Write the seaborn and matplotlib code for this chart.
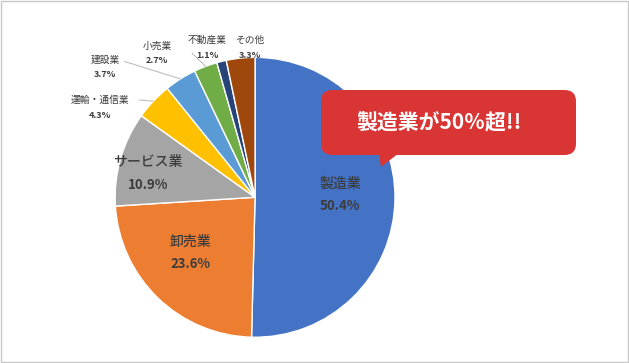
import numpy as np
import matplotlib
matplotlib.use("Agg")
import matplotlib.pyplot as plt
import seaborn as sns
from matplotlib.patches import FancyBboxPatch, Polygon, Rectangle

# data
industries = ["製造業", "卸売業", "サービス業", "運輸・通信業", "建設業", "小売業", "不動産業", "その他"]
shares = [50.4, 23.6, 10.9, 4.3, 3.7, 2.7, 1.1, 3.3]
colors = ["#4472C4", "#ED7D31", "#A5A5A5", "#FFC000", "#5B9BD5", "#70AD47", "#264478", "#9E480E"]
callout_text = "製造業が50％超!!"

# label placement (data units, pie radius = 1)
label_pos = [(0.607, 0.02), (-0.464, -0.40), (-0.764, 0.17), (-1.107, 0.64),
             (-1.071, 0.93), (-0.70, 1.03), (-0.34, 1.07), (-0.035, 1.07)]
big = [True, True, True, False, False, False, False, False]
leader = [False, False, False, True, True, True, False, False]

sns.set_theme(style="white")
plt.rcParams["font.family"] = ["Noto Sans CJK JP", "DejaVu Sans"]

fig = plt.figure(figsize=(6.29, 3.63), dpi=100)
ax = fig.add_axes([0.183, 0.071, 0.445, 0.771])

wedges, _ = ax.pie(shares, colors=colors, startangle=90, counterclock=False,
                   wedgeprops=dict(edgecolor="white", linewidth=1))
ax.set_xlim(-1, 1)
ax.set_ylim(-1, 1)
ax.set_aspect("equal")
ax.axis("off")

txt_col = "#3C3C3C"
for w, name, val, pos, b, ld in zip(wedges, industries, shares, label_pos, big, leader):
    x, y = pos
    if b:
        ax.text(x, y + 0.08, name, ha="center", va="center", fontsize=10, color=txt_col,
                fontweight="medium")
        ax.text(x, y - 0.08, f"{val}%", ha="center", va="center", fontsize=9.5,
                fontweight="bold", color=txt_col)
    else:
        ax.text(x, y + 0.055, name, ha="center", va="center", fontsize=7, color=txt_col)
        ax.text(x, y - 0.055, f"{val}%", ha="center", va="center", fontsize=6.5,
                fontweight="bold", color=txt_col)
    if ld:
        ang = np.deg2rad((w.theta1 + w.theta2) / 2)
        ex, ey = np.cos(ang), np.sin(ang)
        if name == "運輸・通信業":
            sx, sy = x + 0.28, y + 0.055
        elif name == "建設業":
            sx, sy = x + 0.14, y + 0.04
        else:
            sx, sy = x + 0.25, y + 0.0
        ax.plot([sx, ex], [sy, ey], color="#BFBFBF", lw=0.8, clip_on=False)

# callout bubble (figure coords)
W, H = 629, 363
def fx(px):
    return px / W
def fy(py):
    return 1 - py / H

box = FancyBboxPatch((fx(321), fy(155)), fx(576) - fx(321), fy(90) - fy(155),
                     boxstyle="round,pad=0,rounding_size=0.018",
                     transform=fig.transFigure, facecolor="#DA3535", edgecolor="none",
                     mutation_aspect=W / H)
fig.patches.append(box)
tail = Polygon([(fx(379), fy(153)), (fx(399), fy(153)), (fx(381), fy(167))],
               closed=True, transform=fig.transFigure, facecolor="#DA3535", edgecolor="none")
fig.patches.append(tail)
fig.text(fx(439), fy(123), callout_text, ha="center", va="center", color="white",
         fontsize=15, fontweight="bold")

# outer border
fig.patches.append(Rectangle((0.001, 0.002), 0.997, 0.995, transform=fig.transFigure,
                             fill=False, edgecolor="#C8C8C8", lw=1))

fig.savefig("out.png", dpi=100)
